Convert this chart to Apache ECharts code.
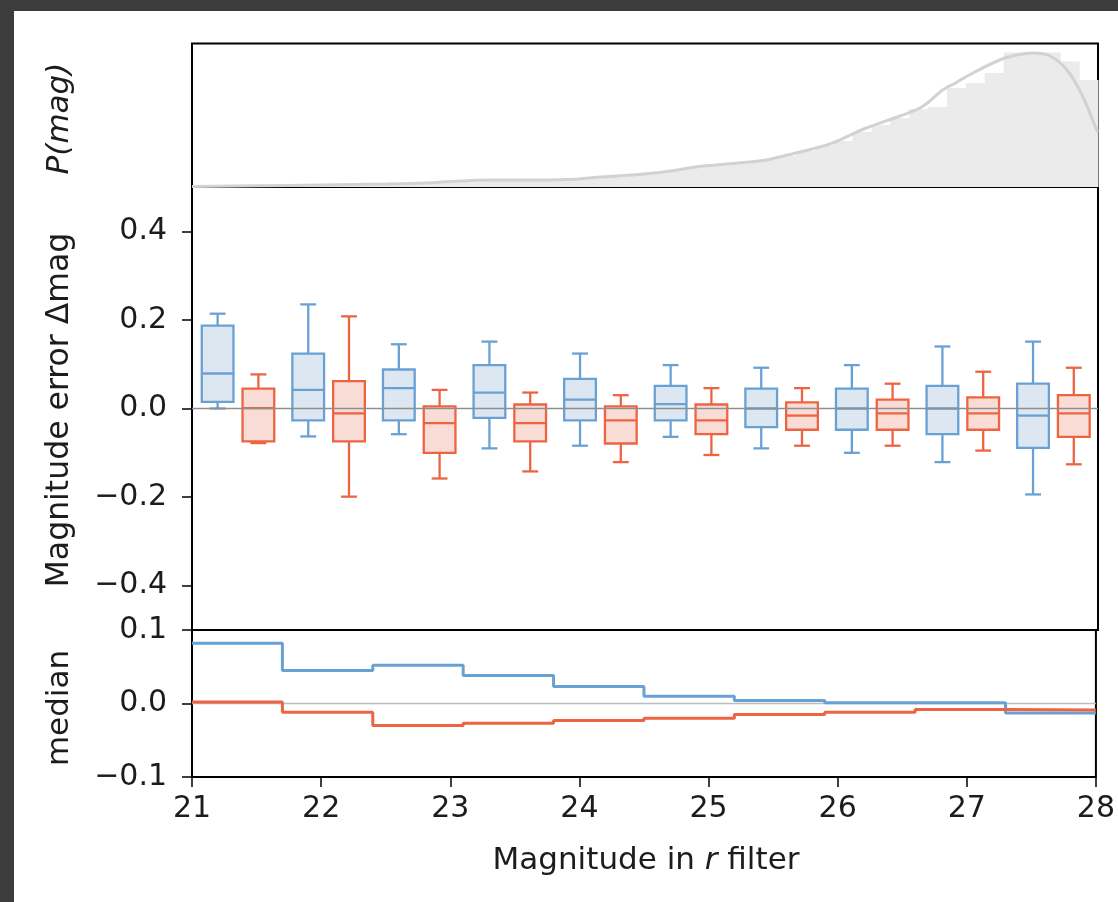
<!DOCTYPE html>
<html><head><meta charset="utf-8">
<script src="https://cdn.jsdelivr.net/npm/echarts@6/dist/echarts.min.js"></script>
<style>
html,body{margin:0;padding:0;background:#3c3c3c;width:1118px;height:902px;overflow:hidden}
#c{position:absolute;left:14px;top:11px;width:1104px;height:891px;background:#fff}
</style></head><body><div id="c"></div>
<script>
// ---------- data ----------
const binEdges = [21.0, 21.7, 22.4, 23.1, 23.8, 24.5, 25.2, 25.9, 26.6, 27.3, 28.0];

const blueLow  = [0.000, -0.063, -0.058, -0.090, -0.084, -0.064, -0.090, -0.100, -0.121, -0.194];
const blueQ1   = [0.015, -0.027, -0.027, -0.021, -0.027, -0.027, -0.042, -0.048, -0.058, -0.089];
const blueMed  = [0.079,  0.042,  0.046,  0.036,  0.020,  0.010,  0.000,  0.000,  0.000, -0.016];
const blueQ3   = [0.187,  0.124,  0.088,  0.098,  0.067,  0.051,  0.045,  0.045,  0.051,  0.056];
const blueHigh = [0.214,  0.235,  0.145,  0.151,  0.124,  0.098,  0.092,  0.098,  0.140,  0.151];

const redLow   = [-0.078, -0.199, -0.158, -0.142, -0.121, -0.105, -0.084, -0.084, -0.095, -0.126];
const redQ1    = [-0.074, -0.074, -0.100, -0.074, -0.079, -0.058, -0.048, -0.048, -0.048, -0.064];
const redMed   = [ 0.001, -0.011, -0.033, -0.033, -0.027, -0.027, -0.016, -0.011, -0.011, -0.011];
const redQ3    = [ 0.045,  0.062,  0.005,  0.009,  0.005,  0.009,  0.014,  0.020,  0.025,  0.030];
const redHigh  = [ 0.077,  0.208,  0.042,  0.036,  0.030,  0.046,  0.046,  0.056,  0.083,  0.092];

const blueMedianStep = [0.082, 0.045, 0.052, 0.038, 0.023, 0.010, 0.004, 0.001, 0.001, -0.013];
const redMedianStep  = [0.002, -0.012, -0.030, -0.027, -0.023, -0.020, -0.015, -0.012, -0.008, -0.009];

const histRange = [21, 28];
const histCounts = [0.5, 0.7, 1.0, 1.2, 1.4, 1.7, 2.0, 2.2, 2.5, 2.8, 3.0, 3.5, 4.0, 5.0, 6.0, 6.8,
  7.2, 7.0, 7.0, 7.4, 8.5, 10, 11, 12, 14, 16, 19, 21.5, 23, 25, 27.5, 31, 36, 41, 46, 55, 62, 69,
  78, 80, 99, 104, 114, 134.6, 134.6, 134.6, 125.6, 107];

const kdeMag = [21.0, 21.5, 22.0, 22.5, 22.8, 23.0, 23.3, 23.6, 23.9, 24.15, 24.4, 24.67, 24.92, 25.1,
  25.31, 25.44, 25.6, 25.7, 25.85, 25.95, 26.21, 26.47, 26.65, 26.8, 26.9, 26.99, 27.24, 27.37, 27.5, 27.63,
  27.76, 27.88, 27.99, 28.0];
const kdeDensity = [0.5, 1.2, 2, 3, 4, 5.5, 7, 7, 7.5, 10, 12, 15.5, 20.5, 22.5, 25, 27, 32, 35, 40, 44,
  59, 71, 81, 97, 104, 111, 127, 132, 134, 131, 117, 91, 57, 55];

const xTicks = [21, 22, 23, 24, 25, 26, 27, 28];
const errTicks = [-0.4, -0.2, 0.0, 0.2, 0.4];
const medTicks = [-0.1, 0.0, 0.1];

// ---------- style ----------
const FONT = 'DejaVu Sans';
const TXT = '#1c1c1c';
const BLUE = '#6aa1d3', BLUE_FILL = '#dde7f1';
const RED = '#ee6443', RED_FILL = '#f9dcd6';
const BOX_W = 0.245, BLUE_OFF = -0.152, RED_OFF = 0.163, LW = 2.3;
const fmt = v => (v < -1e-9 ? '\u2212' : '') + Math.abs(v).toFixed(1);

const chart = echarts.init(document.getElementById('c'), null, {renderer: 'canvas'});

const binCenters = binEdges.slice(0, -1).map((e, i) => (e + binEdges[i + 1]) / 2);

function boxSeries(off, lo, q1, md, q3, hi, stroke, fill) {
  const data = binCenters.map((c, i) => [c + off, lo[i], q1[i], md[i], q3[i], hi[i]]);
  return {
    type: 'custom', xAxisIndex: 1, yAxisIndex: 1, z: 3, data,
    encode: {x: 0, y: [1, 2, 3, 4, 5]},
    renderItem: (params, api) => {
      const x = api.value(0);
      const halfW = api.size([BOX_W, 0])[0] / 2;
      const capHalf = halfW / 2;
      const cx = api.coord([x, 0])[0];
      const y = k => api.coord([x, api.value(k)])[1];
      const yLo = y(1), yQ1 = y(2), yMd = y(3), yQ3 = y(4), yHi = y(5);
      const ls = {stroke, lineWidth: LW, fill: null};
      return {type: 'group', children: [
        {type: 'line', shape: {x1: cx, y1: yQ1, x2: cx, y2: yLo}, style: ls},
        {type: 'line', shape: {x1: cx, y1: yQ3, x2: cx, y2: yHi}, style: ls},
        {type: 'line', shape: {x1: cx - capHalf, y1: yLo, x2: cx + capHalf, y2: yLo}, style: ls},
        {type: 'line', shape: {x1: cx - capHalf, y1: yHi, x2: cx + capHalf, y2: yHi}, style: ls},
        {type: 'rect', shape: {x: cx - halfW, y: yQ3, width: 2 * halfW, height: yQ1 - yQ3},
          style: {fill, stroke, lineWidth: LW}},
        {type: 'line', shape: {x1: cx - halfW, y1: yMd, x2: cx + halfW, y2: yMd}, style: ls}
      ]};
    }
  };
}

function stepData(vals) {
  const d = vals.map((v, i) => [binEdges[i], v]);
  d.push([binEdges[binEdges.length - 1], vals[vals.length - 1]]);
  return d;
}

const histW = (histRange[1] - histRange[0]) / histCounts.length;
const histData = histCounts.map((h, i) => [histRange[0] + i * histW, histRange[0] + (i + 1) * histW, h]);

const L = 178, W = 906;
const grids = [
  {left: L, width: W, top: 32.5, height: 143.5},
  {left: L, width: W, top: 176, height: 443},
  {left: L, width: W, top: 619, height: 147}
].map(g => Object.assign(g, {show: true, borderColor: '#000', borderWidth: 2, backgroundColor: 'transparent', containLabel: false}));

const hiddenX = i => ({type: 'value', gridIndex: i, min: 21, max: 28,
  axisLine: {show: false, onZero: false}, axisTick: {show: false}, axisLabel: {show: false}, splitLine: {show: false}});

const option = {
  animation: false,
  backgroundColor: '#fff',
  grid: grids,
  xAxis: [
    hiddenX(0), hiddenX(1),
    {type: 'value', gridIndex: 2, min: 21, max: 28, interval: 1, position: 'bottom',
      axisLine: {show: false, onZero: false},
      axisTick: {show: true, length: 10, lineStyle: {color: '#000', width: 1.5}, customValues: xTicks},
      axisLabel: {show: true, margin: 17, fontSize: 30, fontFamily: FONT, color: TXT, customValues: xTicks,
        formatter: v => String(v)},
      splitLine: {show: false}}
  ],
  yAxis: [
    {type: 'value', gridIndex: 0, min: 0, max: 143.5, show: false, splitLine: {show: false}},
    {type: 'value', gridIndex: 1, min: -0.5, max: 0.5,
      axisLine: {show: false, onZero: false},
      axisTick: {show: true, length: 10, lineStyle: {color: '#000', width: 1.5}, customValues: errTicks},
      axisLabel: {show: true, margin: 25, fontSize: 30, fontFamily: FONT, color: TXT, customValues: errTicks, formatter: fmt},
      splitLine: {show: false}},
    {type: 'value', gridIndex: 2, min: -0.1, max: 0.1, interval: 0.1,
      axisLine: {show: false, onZero: false},
      axisTick: {show: true, length: 10, lineStyle: {color: '#000', width: 1.5}, customValues: medTicks},
      axisLabel: {show: true, margin: 25, fontSize: 30, fontFamily: FONT, color: TXT, customValues: medTicks, formatter: fmt},
      splitLine: {show: false}}
  ],
  series: [
    {type: 'custom', xAxisIndex: 0, yAxisIndex: 0, data: histData, encode: {x: [0, 1], y: 2},
      renderItem: (params, api) => {
        const p0 = api.coord([api.value(0), 0]);
        const p1 = api.coord([api.value(1), api.value(2)]);
        return {type: 'rect', shape: {x: p0[0], y: p1[1], width: p1[0] - p0[0] + 0.5, height: p0[1] - p1[1]},
          style: {fill: '#ebebeb', stroke: null}};
      }},
    {type: 'line', xAxisIndex: 0, yAxisIndex: 0, data: kdeMag.map((m, i) => [m, kdeDensity[i]]),
      smooth: 0.4, showSymbol: false, lineStyle: {color: '#d2d2d2', width: 3}, z: 3},
    boxSeries(BLUE_OFF, blueLow, blueQ1, blueMed, blueQ3, blueHigh, BLUE, BLUE_FILL),
    boxSeries(RED_OFF, redLow, redQ1, redMed, redQ3, redHigh, RED, RED_FILL),
    {type: 'line', xAxisIndex: 1, yAxisIndex: 1, data: [[21, 0], [28, 0]], showSymbol: false,
      lineStyle: {color: '#8f8f8f', width: 1.5}, z: 5, silent: true},
    {type: 'line', xAxisIndex: 2, yAxisIndex: 2, data: [[21, 0], [28, 0]], showSymbol: false,
      lineStyle: {color: '#bdbdbd', width: 1.5}, z: 1, silent: true},
    {type: 'line', xAxisIndex: 2, yAxisIndex: 2, data: stepData(blueMedianStep), step: 'end',
      showSymbol: false, lineStyle: {color: BLUE, width: 3}, z: 3},
    {type: 'line', xAxisIndex: 2, yAxisIndex: 2, data: stepData(redMedianStep), step: 'end',
      showSymbol: false, lineStyle: {color: RED, width: 3}, z: 4}
  ],
  graphic: [
    {type: 'text', x: 46, y: 107.5, rotation: Math.PI / 2,
      style: {text: 'P(mag)', fontSize: 31, fontStyle: 'italic', fontFamily: FONT, fill: TXT, align: 'center', verticalAlign: 'middle'}},
    {type: 'text', x: 46, y: 399, rotation: Math.PI / 2,
      style: {text: 'Magnitude error \u0394mag', fontSize: 31.5, fontFamily: FONT, fill: TXT, align: 'center', verticalAlign: 'middle'}},
    {type: 'text', x: 46, y: 697, rotation: Math.PI / 2,
      style: {text: 'median', fontSize: 31, fontFamily: FONT, fill: TXT, align: 'center', verticalAlign: 'middle'}},
    {type: 'text', x: 632, y: 850,
      style: {text: 'Magnitude in {i|r} filter', fontSize: 31, fontFamily: FONT, fill: TXT, align: 'center', verticalAlign: 'middle',
        rich: {i: {fontStyle: 'italic', fontSize: 31, fontFamily: FONT, fill: TXT}}}}
  ]
};
chart.setOption(option);
</script></body></html>
